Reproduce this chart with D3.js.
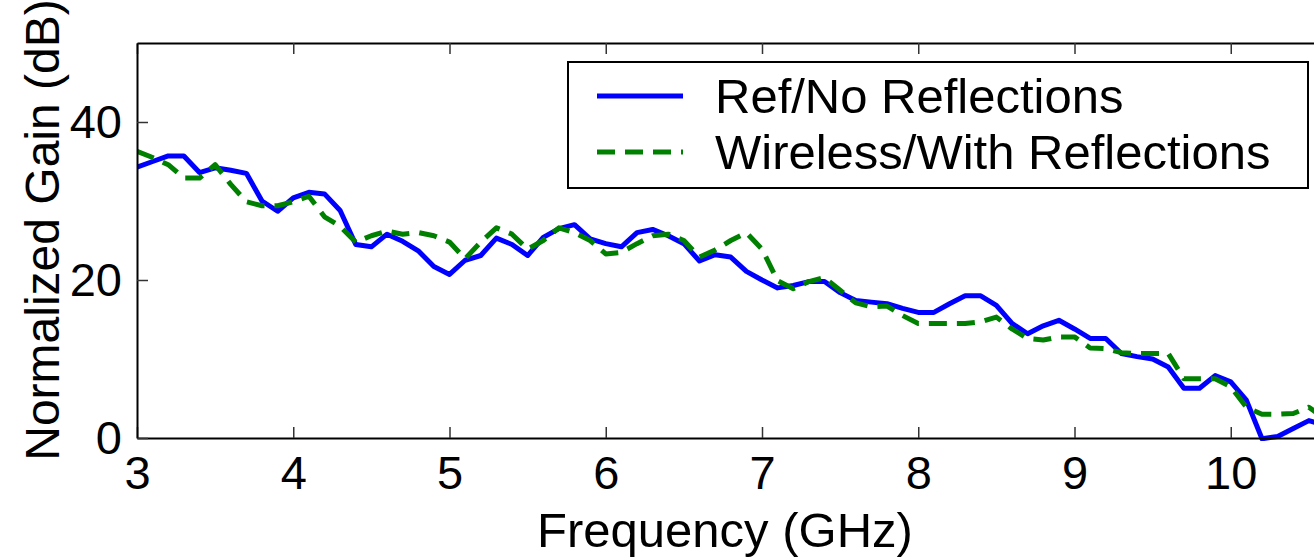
<!DOCTYPE html>
<html>
<head>
<meta charset="utf-8">
<script src="https://cdn.jsdelivr.net/npm/d3@7"></script>
<style>
  html, body { margin: 0; padding: 0; background: #fff; overflow: hidden; }
  svg { display: block; font-family: "Liberation Sans", Arial, sans-serif; }
</style>
</head>
<body>
<svg width="1314" height="559"></svg>
<script>
var freqs = [3.0, 3.1, 3.2, 3.3, 3.4, 3.5, 3.6, 3.7, 3.8, 3.9,
  4.0, 4.1, 4.2, 4.3, 4.4, 4.5, 4.6, 4.7, 4.8, 4.9,
  5.0, 5.1, 5.2, 5.3, 5.4, 5.5, 5.6, 5.7, 5.8, 5.9,
  6.0, 6.1, 6.2, 6.3, 6.4, 6.5, 6.6, 6.7, 6.8, 6.9,
  7.0, 7.1, 7.2, 7.3, 7.4, 7.5, 7.6, 7.7, 7.8, 7.9,
  8.0, 8.1, 8.2, 8.3, 8.4, 8.5, 8.6, 8.7, 8.8, 8.9,
  9.0, 9.1, 9.2, 9.3, 9.4, 9.5, 9.6, 9.7, 9.8, 9.9,
  10.0, 10.1, 10.2, 10.3, 10.4, 10.5, 10.6];

// Ref/No Reflections (dB)
var refGain = [34.3, 35.0, 35.7, 35.7, 33.6, 34.2, 33.9, 33.5, 30.0, 28.7,
  30.4, 31.1, 30.9, 28.8, 24.5, 24.2, 25.8, 24.9, 23.7, 21.7,
  20.7, 22.5, 23.1, 25.3, 24.5, 23.1, 25.4, 26.5, 27.0, 25.2,
  24.6, 24.2, 26.0, 26.4, 25.6, 24.6, 22.4, 23.2, 22.9, 21.1,
  20.0, 19.0, 19.3, 19.8, 19.8, 18.4, 17.4, 17.2, 17.0, 16.4,
  15.9, 15.9, 17.0, 18.0, 18.0, 16.8, 14.5, 13.2, 14.2, 14.9,
  13.8, 12.6, 12.6, 10.7, 10.3, 10.0, 9.0, 6.3, 6.3, 7.9,
  7.1, 4.8, -0.1, 0.2, 1.2, 2.2, 1.6];

// Wireless/With Reflections (dB)
var wirelessGain = [36.3, 35.5, 34.6, 32.9, 32.9, 34.6, 32.1, 29.9, 29.4, 29.4,
  29.9, 30.6, 28.0, 26.8, 24.8, 25.6, 26.2, 25.8, 26.0, 25.6,
  24.8, 22.7, 24.8, 26.6, 25.8, 23.9, 25.0, 26.6, 26.0, 25.0,
  23.3, 23.5, 24.6, 25.6, 25.8, 25.0, 22.9, 23.8, 25.0, 26.0,
  23.9, 19.9, 18.9, 19.8, 20.3, 18.7, 17.1, 16.6, 16.7, 15.5,
  14.5, 14.5, 14.5, 14.5, 14.7, 15.3, 13.8, 12.6, 12.4, 12.8,
  12.8, 11.4, 11.3, 10.8, 10.7, 10.7, 10.7, 7.5, 7.5, 7.5,
  6.5, 3.9, 3.0, 3.0, 3.1, 3.9, 2.5];

var xTicks = [3, 4, 5, 6, 7, 8, 9, 10];
var yTicks = [0, 20, 40];
var seriesNames = ["Ref/No Reflections", "Wireless/With Reflections"];


function plotGain () {

  var svg = d3.select("svg"),
  margin = {top: 43, left: 137},
  width = 1250,            // plot runs off the right edge of the picture
  height = 395;

  var x = d3.scaleLinear().domain([3, 11]).range([0, width]),
  y = d3.scaleLinear().domain([0, 50]).range([height, 0]);

  var g = svg.append("g")
  .attr("transform", "translate(" + margin.left + "," + margin.top + ")");

  g.append("clipPath").attr("id", "plotClip")
  .append("rect").attr("x", 0).attr("y", -3).attr("width", width).attr("height", height + 6);

  var series = [
    {name: seriesNames[0], values: refGain, color: "#0000ff", dash: null},
    {name: seriesNames[1], values: wirelessGain, color: "#008000", dash: "18,10"}
  ];

  var line = d3.line()
  .x(function(d) { return x(d[0]); })
  .y(function(d) { return y(d[1]); });

  g.selectAll(".series")
  .data(series)
  .enter().append("path")
  .attr("class", "series")
  .attr("clip-path", "url(#plotClip)")
  .attr("fill", "none")
  .attr("stroke", function(d) { return d.color; })
  .attr("stroke-width", 5)
  .attr("stroke-linejoin", "round")
  .attr("stroke-dasharray", function(d) { return d.dash; })
  .attr("d", function(d) { return line(d3.zip(freqs, d.values)); });

  // axes, ticks pointing inward
  g.append("g")
  .attr("class", "axis axis--x")
  .attr("transform", "translate(0," + height + ")")
  .call(d3.axisBottom(x).tickValues(xTicks).tickSizeInner(-11).tickSizeOuter(0).tickPadding(18));

  g.append("g")
  .attr("class", "axis axis--top")
  .call(d3.axisTop(x).tickValues(xTicks).tickSizeInner(-11).tickSizeOuter(0).tickFormat(""));

  g.append("g")
  .attr("class", "axis axis--y")
  .call(d3.axisLeft(y).tickValues(yTicks).tickSizeInner(-11).tickSizeOuter(0).tickPadding(15));

  g.selectAll(".axis path").attr("stroke", "#000").attr("stroke-width", 2);
  g.selectAll(".axis line").attr("stroke", "#333").attr("stroke-width", 1.5);
  g.selectAll(".axis text")
  .attr("fill", "#000")
  .style("font-size", "47px")
  .style("font-family", "'Liberation Sans', Arial, sans-serif");

  svg.append("text")
  .attr("x", 725)
  .attr("y", 547)
  .attr("text-anchor", "middle")
  .style("font-size", "49px")
  .text("Frequency (GHz)");

  svg.append("text")
  .attr("transform", "translate(59,230) rotate(-90)")
  .attr("text-anchor", "middle")
  .style("font-size", "48px")
  .text("Normalized Gain (dB)");

  // legend
  var legend = svg.append("g").attr("transform", "translate(568,62)");
  legend.append("rect")
  .attr("width", 740).attr("height", 126)
  .attr("fill", "#fff").attr("stroke", "#000").attr("stroke-width", 2);

  var item = legend.selectAll(".item")
  .data(series)
  .enter().append("g")
  .attr("class", "item")
  .attr("transform", function(d, i) { return "translate(0," + (34 + i * 56) + ")"; });

  item.append("line")
  .attr("x1", 29).attr("x2", 115)
  .attr("stroke", function(d) { return d.color; })
  .attr("stroke-width", 5)
  .attr("stroke-dasharray", function(d) { return d.dash; });

  item.append("text")
  .attr("x", 147)
  .attr("dy", "0.35em")
  .style("font-size", "49px")
  .text(function(d) { return d.name; });
}

plotGain();
</script>
</body>
</html>
